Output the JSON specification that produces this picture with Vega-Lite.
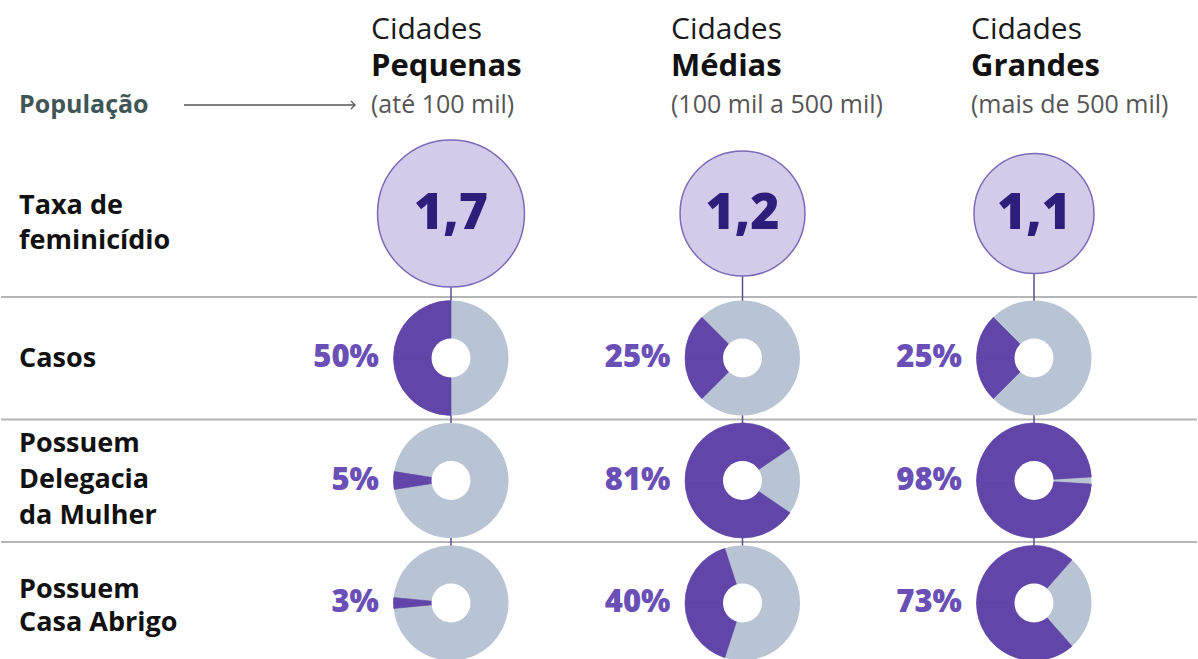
{
  "$schema": "https://vega.github.io/schema/vega-lite/v6.json",
  "width": 1198,
  "height": 659,
  "autosize": {"type": "fit", "contains": "padding"},
  "padding": 0,
  "background": "white",
  "config": {
    "view": {"stroke": null},
    "font": "Open Sans",
    "locale": {"number": {"decimal": ",", "thousands": ".", "grouping": [3], "currency": ["R$ ", ""]}}
  },
  "datasets": {
    "cidades": [
      {"cidade": "Pequenas", "titulo": "Cidades", "faixa": "(até 100 mil)", "taxa": 1.7},
      {"cidade": "Médias", "titulo": "Cidades", "faixa": "(100 mil a 500 mil)", "taxa": 1.2},
      {"cidade": "Grandes", "titulo": "Cidades", "faixa": "(mais de 500 mil)", "taxa": 1.1}
    ],
    "indicadores": [
      {"cidade": "Pequenas", "linha": "Casos", "pct": 0.50},
      {"cidade": "Médias", "linha": "Casos", "pct": 0.25},
      {"cidade": "Grandes", "linha": "Casos", "pct": 0.25},
      {"cidade": "Pequenas", "linha": "Delegacia", "pct": 0.05},
      {"cidade": "Médias", "linha": "Delegacia", "pct": 0.81},
      {"cidade": "Grandes", "linha": "Delegacia", "pct": 0.98},
      {"cidade": "Pequenas", "linha": "Abrigo", "pct": 0.03},
      {"cidade": "Médias", "linha": "Abrigo", "pct": 0.40},
      {"cidade": "Grandes", "linha": "Abrigo", "pct": 0.73}
    ],
    "linhas": [
      {"linha": "Taxa", "texto": "Taxa de\nfeminicídio"},
      {"linha": "Casos", "texto": "Casos"},
      {"linha": "Delegacia", "texto": "Possuem\nDelegacia\nda Mulher"},
      {"linha": "Abrigo", "texto": "Possuem\nCasa Abrigo"}
    ]
  },
  "layer": [
    {
      "resolve": {"scale": {"theta": "independent"}},
      "encoding": {
        "x": {"field": "cidade", "type": "nominal", "axis": null,
              "scale": {"type": "point", "domain": ["Pequenas", "Médias", "Grandes"], "range": [450, 1033], "padding": 0}},
        "y": {"field": "linha", "type": "nominal", "axis": null,
              "scale": {"type": "point", "domain": ["cab", "Taxa", "Casos", "Delegacia", "Abrigo"], "range": [113, 603], "padding": 0}}
      },
      "layer": [
        {
          "data": {"name": "linhas"},
          "transform": [{"filter": "datum.linha !== 'Taxa'"}],
          "mark": {"type": "rule", "color": "#b5b5b5", "strokeWidth": 2, "yOffset": -61},
          "encoding": {"x": null}
        },
        {
          "data": {"name": "cidades"},
          "mark": {"type": "rule", "color": "#5b4f8e", "strokeWidth": 1.5},
          "encoding": {
            "y": {"datum": "Taxa"},
            "y2": {"datum": "Abrigo"}
          }
        },
        {
          "data": {"name": "cidades"},
          "mark": {"type": "point", "shape": "circle", "filled": true, "fill": "#d4cbea", "stroke": "#7c69b8", "strokeWidth": 1.5, "opacity": 1, "yOffset": -22},
          "encoding": {
            "y": {"datum": "Taxa"},
            "size": {"field": "taxa", "type": "quantitative", "legend": null,
                     "scale": {"domain": [1.1, 1.7], "range": [14400, 21600]}}
          }
        },
        {
          "data": {"name": "cidades"},
          "mark": {"type": "text", "fontSize": 50, "fontWeight": 800, "color": "#2d1e7c", "align": "center", "baseline": "middle", "yOffset": -22},
          "encoding": {
            "y": {"datum": "Taxa"},
            "text": {"field": "taxa", "type": "quantitative", "format": ".1f"}
          }
        },
        {
          "data": {"name": "indicadores"},
          "mark": {"type": "point", "shape": "circle", "filled": true, "color": "#b8c3d3", "opacity": 1, "size": 13225, "strokeWidth": 0}
        },
        {
          "data": {"name": "indicadores"},
          "mark": {"type": "arc", "outerRadius": 57.5, "innerRadius": 0, "color": "#6145a8", "stroke": "#6145a8", "strokeWidth": 0.6},
          "encoding": {
            "theta": {"field": "pct", "type": "quantitative", "stack": null,
                      "scale": {"type": "linear", "domain": [0, 1], "range": [4.712389, 1.570796]}},
            "theta2": {"datum": 0}
          }
        },
        {
          "data": {"name": "indicadores"},
          "mark": {"type": "arc", "outerRadius": 57.5, "innerRadius": 0, "color": "#6145a8", "stroke": "#6145a8", "strokeWidth": 0.6},
          "encoding": {
            "theta": {"field": "pct", "type": "quantitative", "stack": null,
                      "scale": {"type": "linear", "domain": [0, 1], "range": [4.712389, 7.853982]}},
            "theta2": {"datum": 0}
          }
        },
        {
          "data": {"name": "indicadores"},
          "mark": {"type": "point", "shape": "circle", "filled": true, "color": "white", "opacity": 1, "size": 1521, "strokeWidth": 0}
        },
        {
          "data": {"name": "indicadores"},
          "mark": {"type": "text", "fontSize": 31, "fontWeight": 800, "color": "#6a4fb7", "align": "right", "baseline": "middle", "xOffset": -72},
          "encoding": {
            "text": {"field": "pct", "type": "quantitative", "format": ".0%"}
          }
        },
        {
          "data": {"name": "linhas"},
          "transform": [{"filter": "datum.linha === 'Taxa'"}],
          "mark": {"type": "text", "fontSize": 27, "fontWeight": "bold", "color": "#111111", "align": "left", "baseline": "middle", "lineBreak": "\n", "lineHeight": 35, "xOffset": -432, "yOffset": -30},
          "encoding": {
            "x": {"datum": "Pequenas"},
            "text": {"field": "texto", "type": "nominal"}
          }
        },
        {
          "data": {"name": "linhas"},
          "transform": [{"filter": "datum.linha === 'Casos'"}],
          "mark": {"type": "text", "fontSize": 27, "fontWeight": "bold", "color": "#111111", "align": "left", "baseline": "middle", "lineBreak": "\n", "lineHeight": 35, "xOffset": -432, "yOffset": 1},
          "encoding": {
            "x": {"datum": "Pequenas"},
            "text": {"field": "texto", "type": "nominal"}
          }
        },
        {
          "data": {"name": "linhas"},
          "transform": [{"filter": "datum.linha === 'Delegacia'"}],
          "mark": {"type": "text", "fontSize": 27, "fontWeight": "bold", "color": "#111111", "align": "left", "baseline": "middle", "lineBreak": "\n", "lineHeight": 36, "xOffset": -432, "yOffset": -37},
          "encoding": {
            "x": {"datum": "Pequenas"},
            "text": {"field": "texto", "type": "nominal"}
          }
        },
        {
          "data": {"name": "linhas"},
          "transform": [{"filter": "datum.linha === 'Abrigo'"}],
          "mark": {"type": "text", "fontSize": 27, "fontWeight": "bold", "color": "#111111", "align": "left", "baseline": "middle", "lineBreak": "\n", "lineHeight": 33, "xOffset": -432, "yOffset": -13},
          "encoding": {
            "x": {"datum": "Pequenas"},
            "text": {"field": "texto", "type": "nominal"}
          }
        },
        {
          "data": {"values": [{"rotulo": "População"}]},
          "mark": {"type": "text", "fontSize": 25, "fontWeight": "bold", "color": "#3f5656", "align": "left", "baseline": "alphabetic", "xOffset": -432, "yOffset": 0},
          "encoding": {
            "x": {"datum": "Pequenas"},
            "y": {"datum": "cab"},
            "text": {"field": "rotulo", "type": "nominal"}
          }
        },
        {
          "data": {"values": [{"rotulo": "População"}]},
          "mark": {"type": "rule", "color": "#555555", "strokeWidth": 1.3, "xOffset": -267, "x2Offset": -96, "yOffset": -8},
          "encoding": {
            "x": {"datum": "Pequenas"},
            "x2": {"datum": "Pequenas"},
            "y": {"datum": "cab"}
          }
        },
        {
          "data": {"values": [{"rotulo": "População"}]},
          "mark": {"type": "point", "shape": "M-1,-1L0,0L-1,1", "filled": false, "stroke": "#555555", "strokeWidth": 1.3, "size": 64, "opacity": 1, "xOffset": -96, "yOffset": -8},
          "encoding": {
            "x": {"datum": "Pequenas"},
            "y": {"datum": "cab"}
          }
        }
      ]
    },
    {
      "data": {"name": "cidades"},
      "encoding": {
        "x": {"field": "cidade", "type": "nominal", "axis": null,
              "scale": {"type": "point", "domain": ["Pequenas", "Médias", "Grandes"], "range": [370, 970], "padding": 0}},
        "y": {"datum": "cab", "type": "nominal", "axis": null,
              "scale": {"type": "point", "domain": ["cab", "Taxa", "Casos", "Delegacia", "Abrigo"], "range": [113, 603], "padding": 0}}
      },
      "layer": [
        {
          "mark": {"type": "text", "fontSize": 30, "fontWeight": "normal", "color": "#1a1a1a", "align": "left", "baseline": "alphabetic", "yOffset": -74},
          "encoding": {"text": {"field": "titulo", "type": "nominal"}}
        },
        {
          "mark": {"type": "text", "fontSize": 31, "fontWeight": "bold", "color": "#111111", "align": "left", "baseline": "alphabetic", "yOffset": -37},
          "encoding": {"text": {"field": "cidade", "type": "nominal"}}
        },
        {
          "mark": {"type": "text", "fontSize": 25, "fontWeight": "normal", "color": "#555555", "align": "left", "baseline": "alphabetic", "yOffset": 0},
          "encoding": {"text": {"field": "faixa", "type": "nominal"}}
        }
      ]
    }
  ],
  "resolve": {"scale": {"x": "independent"}}
}
